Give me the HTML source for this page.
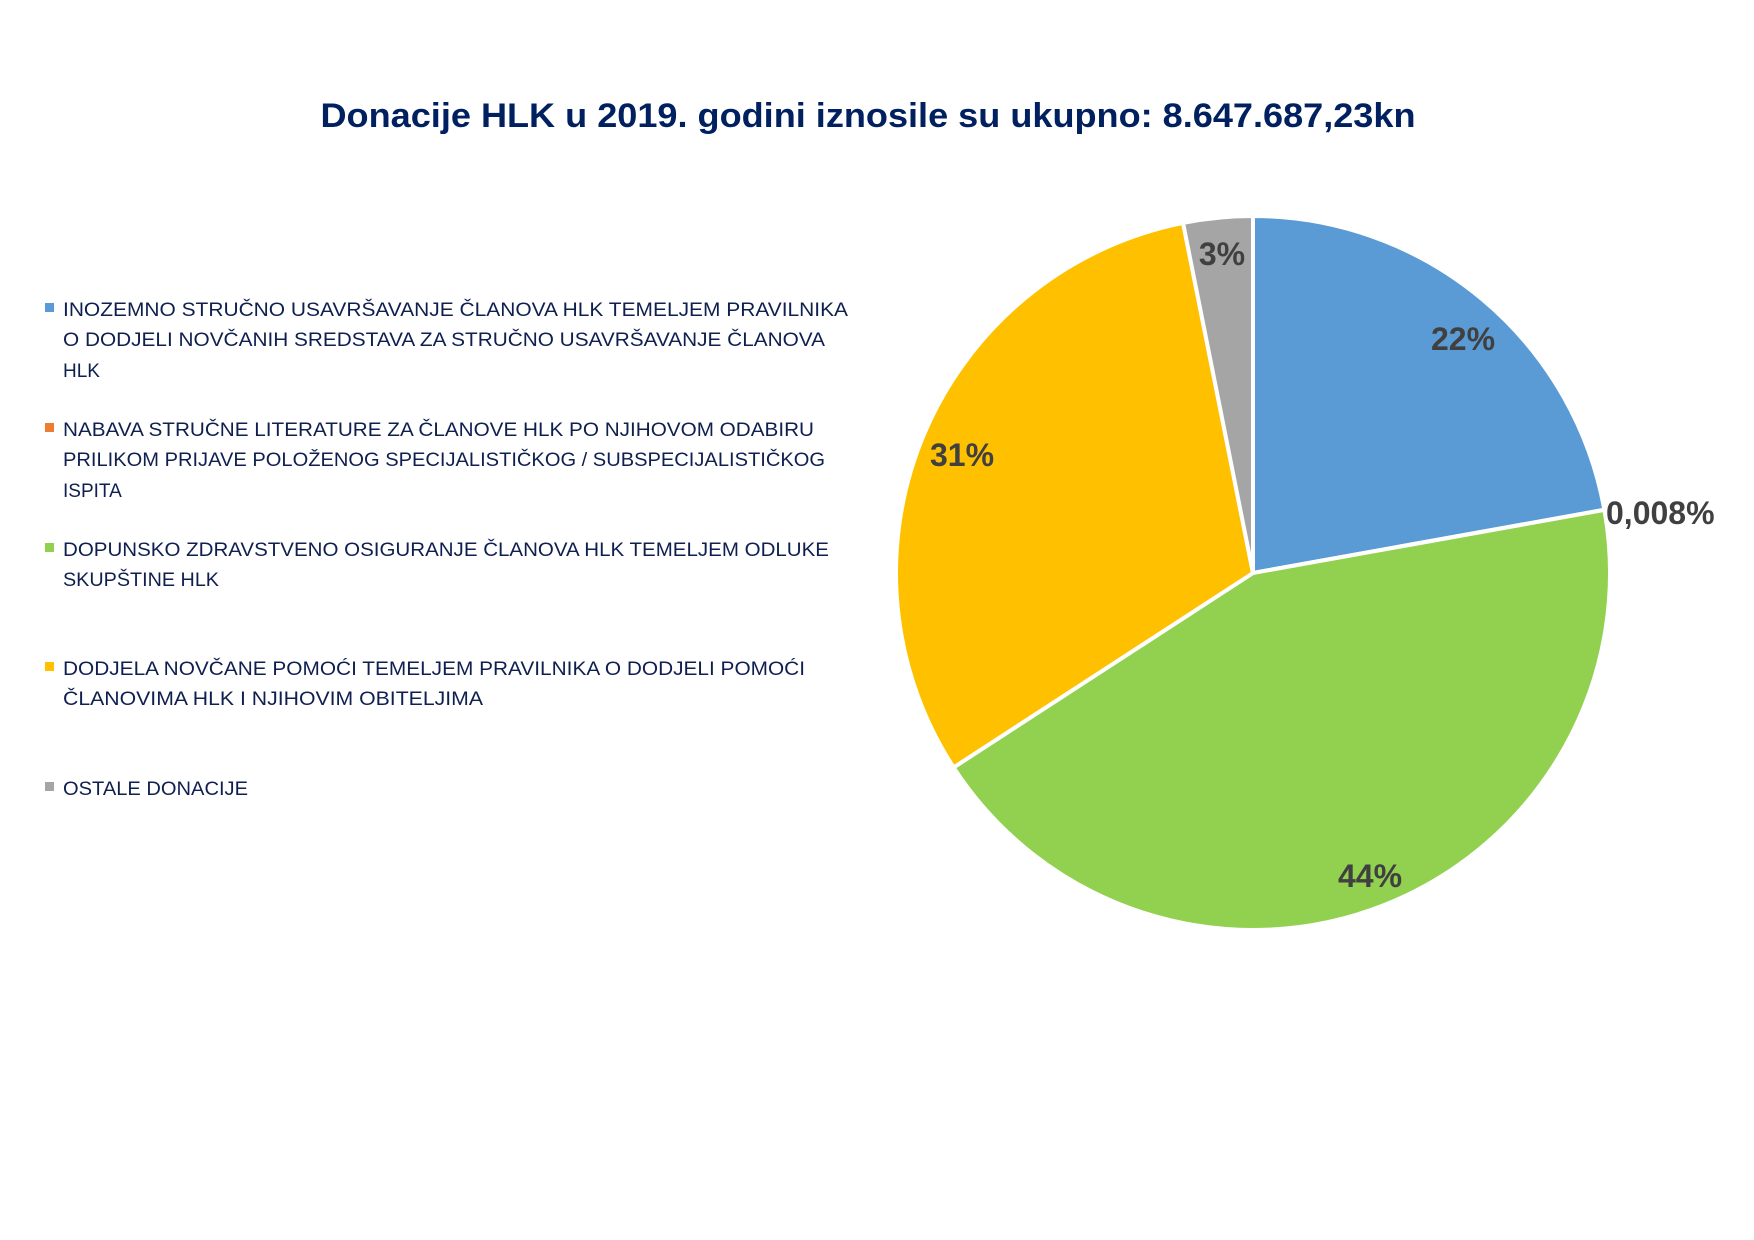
<!DOCTYPE html>
<html><head><meta charset="utf-8"><style>html,body{margin:0;padding:0;background:#fff;}svg{display:block}</style></head>
<body>
<svg width="1754" height="1240" viewBox="0 0 1754 1240" xmlns="http://www.w3.org/2000/svg">
<rect width="1754" height="1240" fill="#fff"/>
<text x="868" y="127" text-anchor="middle" font-family="Liberation Sans, sans-serif" font-weight="bold" font-size="34" fill="#002060" textLength="1095" lengthAdjust="spacingAndGlyphs">Donacije HLK u 2019. godini iznosile su ukupno: 8.647.687,23kn</text>
<g font-family="Liberation Sans, sans-serif" font-size="19" fill="#0f1f4f">
<rect x="45" y="303" width="9" height="9" fill="#5b9bd5"/>
<text x="63" y="316" textLength="785" lengthAdjust="spacingAndGlyphs">INOZEMNO STRUČNO USAVRŠAVANJE ČLANOVA HLK TEMELJEM PRAVILNIKA</text>
<text x="63" y="346" textLength="762" lengthAdjust="spacingAndGlyphs">O DODJELI NOVČANIH SREDSTAVA ZA STRUČNO USAVRŠAVANJE ČLANOVA</text>
<text x="63" y="377">HLK</text>
<rect x="45" y="423" width="9" height="9" fill="#ed7d31"/>
<text x="63" y="436" textLength="751" lengthAdjust="spacingAndGlyphs">NABAVA STRUČNE LITERATURE ZA ČLANOVE HLK PO NJIHOVOM ODABIRU</text>
<text x="63" y="466" textLength="762" lengthAdjust="spacingAndGlyphs">PRILIKOM PRIJAVE POLOŽENOG SPECIJALISTIČKOG / SUBSPECIJALISTIČKOG</text>
<text x="63" y="497">ISPITA</text>
<rect x="45" y="543" width="9" height="9" fill="#92d050"/>
<text x="63" y="556" textLength="766" lengthAdjust="spacingAndGlyphs">DOPUNSKO ZDRAVSTVENO OSIGURANJE ČLANOVA HLK TEMELJEM ODLUKE</text>
<text x="63" y="586" textLength="156" lengthAdjust="spacingAndGlyphs">SKUPŠTINE HLK</text>
<rect x="45" y="662" width="9" height="9" fill="#ffc000"/>
<text x="63" y="675" textLength="742" lengthAdjust="spacingAndGlyphs">DODJELA NOVČANE POMOĆI TEMELJEM PRAVILNIKA O DODJELI POMOĆI</text>
<text x="63" y="705" textLength="420" lengthAdjust="spacingAndGlyphs">ČLANOVIMA HLK I NJIHOVIM OBITELJIMA</text>
<rect x="45" y="782" width="9" height="9" fill="#a5a5a5"/>
<text x="63" y="795" textLength="185" lengthAdjust="spacingAndGlyphs">OSTALE DONACIJE</text>
</g>
<g id="slices" stroke="#fff" stroke-width="4"></g>
<g font-family="Liberation Sans, sans-serif" font-weight="bold" font-size="32" fill="#404040" text-anchor="middle">
<text x="1463" y="350">22%</text>
<text x="1370" y="887">44%</text>
<text x="962" y="466">31%</text>
<text x="1222" y="265">3%</text>
<text x="1606" y="524" text-anchor="start">0,008%</text>
</g>
<script>
(function(){
var cx=1253,cy=573,r=357;
var b=[0,79.8,79.83,237,348.7,360];
var c=["#5b9bd5","#ed7d31","#92d050","#ffc000","#a5a5a5"];
var g=document.getElementById('slices');
function pt(a){var t=a*Math.PI/180;return [cx+r*Math.sin(t),cy-r*Math.cos(t)];}
for(var i=0;i<5;i++){
var p1=pt(b[i]),p2=pt(b[i+1]);var large=(b[i+1]-b[i])>180?1:0;
var p=document.createElementNS('http://www.w3.org/2000/svg','path');
p.setAttribute('d','M'+cx+','+cy+' L'+p1[0]+','+p1[1]+' A'+r+','+r+' 0 '+large+' 1 '+p2[0]+','+p2[1]+' Z');
p.setAttribute('fill',c[i]);g.appendChild(p);}
})();
</script>
</svg>
</body></html>
